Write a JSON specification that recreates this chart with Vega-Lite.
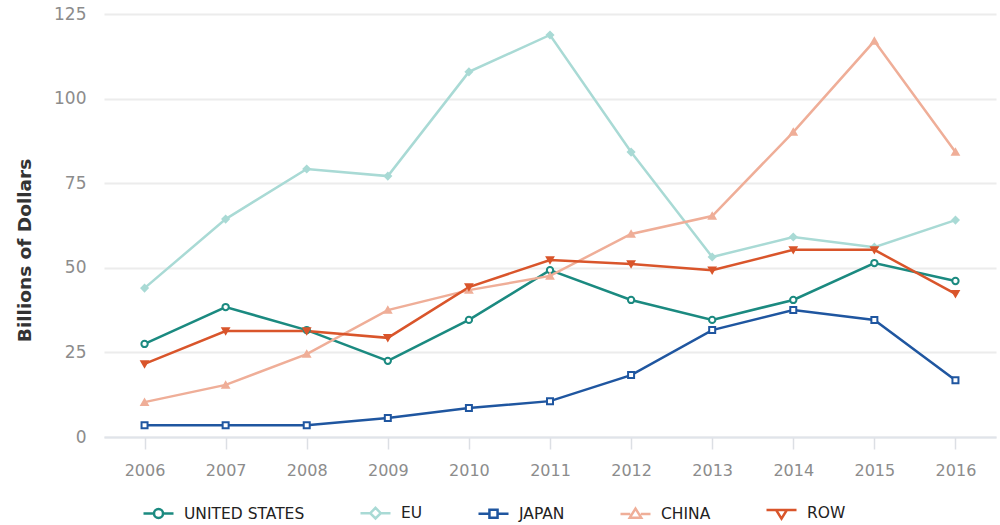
{
  "$schema": "https://vega.github.io/schema/vega-lite/v6.json",
  "width": 892,
  "height": 423,
  "autosize": {"type": "none"},
  "padding": {"left": 104, "top": 14, "right": 4, "bottom": 88},
  "background": "white",
  "config": {
    "view": {"stroke": null},
    "font": "DejaVu Sans"
  },
  "data": {
    "values": [
      {"year": "2006", "series": "UNITED STATES", "value": 27.5},
      {"year": "2007", "series": "UNITED STATES", "value": 38.4},
      {"year": "2008", "series": "UNITED STATES", "value": 31.6},
      {"year": "2009", "series": "UNITED STATES", "value": 22.5},
      {"year": "2010", "series": "UNITED STATES", "value": 34.6},
      {"year": "2011", "series": "UNITED STATES", "value": 49.3},
      {"year": "2012", "series": "UNITED STATES", "value": 40.5},
      {"year": "2013", "series": "UNITED STATES", "value": 34.6},
      {"year": "2014", "series": "UNITED STATES", "value": 40.5},
      {"year": "2015", "series": "UNITED STATES", "value": 51.4},
      {"year": "2016", "series": "UNITED STATES", "value": 46.1},
      {"year": "2006", "series": "EU", "value": 44.0},
      {"year": "2007", "series": "EU", "value": 64.4},
      {"year": "2008", "series": "EU", "value": 79.2},
      {"year": "2009", "series": "EU", "value": 77.1},
      {"year": "2010", "series": "EU", "value": 107.9},
      {"year": "2011", "series": "EU", "value": 118.8},
      {"year": "2012", "series": "EU", "value": 84.2},
      {"year": "2013", "series": "EU", "value": 53.2},
      {"year": "2014", "series": "EU", "value": 59.1},
      {"year": "2015", "series": "EU", "value": 56.1},
      {"year": "2016", "series": "EU", "value": 64.1},
      {"year": "2006", "series": "JAPAN", "value": 3.5},
      {"year": "2007", "series": "JAPAN", "value": 3.5},
      {"year": "2008", "series": "JAPAN", "value": 3.5},
      {"year": "2009", "series": "JAPAN", "value": 5.6},
      {"year": "2010", "series": "JAPAN", "value": 8.6},
      {"year": "2011", "series": "JAPAN", "value": 10.6},
      {"year": "2012", "series": "JAPAN", "value": 18.3},
      {"year": "2013", "series": "JAPAN", "value": 31.6},
      {"year": "2014", "series": "JAPAN", "value": 37.5},
      {"year": "2015", "series": "JAPAN", "value": 34.6},
      {"year": "2016", "series": "JAPAN", "value": 16.8},
      {"year": "2006", "series": "CHINA", "value": 10.3},
      {"year": "2007", "series": "CHINA", "value": 15.4},
      {"year": "2008", "series": "CHINA", "value": 24.5},
      {"year": "2009", "series": "CHINA", "value": 37.5},
      {"year": "2010", "series": "CHINA", "value": 43.4},
      {"year": "2011", "series": "CHINA", "value": 47.6},
      {"year": "2012", "series": "CHINA", "value": 60.0},
      {"year": "2013", "series": "CHINA", "value": 65.3},
      {"year": "2014", "series": "CHINA", "value": 90.1},
      {"year": "2015", "series": "CHINA", "value": 117.0},
      {"year": "2016", "series": "CHINA", "value": 84.2},
      {"year": "2006", "series": "ROW", "value": 21.6},
      {"year": "2007", "series": "ROW", "value": 31.3},
      {"year": "2008", "series": "ROW", "value": 31.3},
      {"year": "2009", "series": "ROW", "value": 29.3},
      {"year": "2010", "series": "ROW", "value": 44.3},
      {"year": "2011", "series": "ROW", "value": 52.3},
      {"year": "2012", "series": "ROW", "value": 51.1},
      {"year": "2013", "series": "ROW", "value": 49.3},
      {"year": "2014", "series": "ROW", "value": 55.3},
      {"year": "2015", "series": "ROW", "value": 55.3},
      {"year": "2016", "series": "ROW", "value": 42.3}
    ]
  },
  "encoding": {
    "x": {
      "field": "year",
      "type": "ordinal",
      "scale": {"type": "point", "padding": 0.5},
      "axis": {
        "title": null,
        "labelAngle": 0,
        "labelFontSize": 16,
        "labelColor": "#8c8c8c",
        "labelPadding": 13,
        "tickSize": 12,
        "tickColor": "#dcdfe4",
        "tickWidth": 1.5,
        "domainColor": "#e0e4ea",
        "domainWidth": 2,
        "grid": false
      }
    },
    "y": {
      "field": "value",
      "type": "quantitative",
      "scale": {"domain": [0, 125], "nice": false},
      "axis": {
        "values": [0, 25, 50, 75, 100, 125],
        "title": "Billions of Dollars",
        "titleFontSize": 18.5,
        "titleFontWeight": "bold",
        "titleColor": "#333333",
        "titleX": -80,
        "titleY": 236,
        "titleAngle": -90,
        "titleAlign": "center",
        "titleBaseline": "middle",
        "labelFontSize": 17,
        "labelColor": "#8c8c8c",
        "labelPadding": 18,
        "ticks": false,
        "domain": false,
        "grid": true,
        "gridColor": "#ececec",
        "gridWidth": 2
      }
    },
    "color": {
      "field": "series",
      "type": "nominal",
      "scale": {
        "domain": ["UNITED STATES", "EU", "JAPAN", "CHINA", "ROW"],
        "range": ["#1b8a80", "#a9dad5", "#1f56a0", "#efae98", "#d9552b"]
      },
      "legend": {
        "title": null,
        "orient": "none",
        "direction": "horizontal",
        "legendX": 38,
        "legendY": 482,
        "padding": 0,
        "columnPadding": 50,
        "labelOffset": 9,
        "labelFontSize": 15.5,
        "labelColor": "#222222",
        "symbolSize": 900,
        "symbolStrokeWidth": 2.5,
        "encode": {
          "symbols": {
            "update": {
              "shape": {"signal": "datum.value === 'UNITED STATES' ? 'M-1,0L-0.3,0M0.3,0A0.3,0.3,0,1,1,-0.3,0A0.3,0.3,0,1,1,0.3,0M0.3,0L1,0' : datum.value === 'EU' ? 'M-1,0L-0.35,0M0,-0.35L0.35,0L0,0.35L-0.35,0ZM0.35,0L1,0' : datum.value === 'JAPAN' ? 'M-1,0L-0.27,0M-0.27,-0.27L0.27,-0.27L0.27,0.27L-0.27,0.27ZM0.27,0L1,0' : datum.value === 'CHINA' ? 'M-1,0L-0.35,0M-0.38,0.25L0,-0.35L0.38,0.25ZM0.35,0L1,0' : 'M-1,-0.2L1,-0.2M-0.36,-0.2L0.36,-0.2L0,0.38Z'"},
              "fill": {"value": "white"},
              "strokeWidth": {"value": 2.5}
            }
          }
        }
      }
    }
  },
  "layer": [
    {
      "mark": {"type": "line", "strokeWidth": 2.5}
    },
    {
      "transform": [{"filter": "datum.series === 'UNITED STATES'"}],
      "mark": {"type": "point", "shape": "circle", "size": 40, "strokeWidth": 2, "opacity": 1, "filled": false, "fill": "white"}
    },
    {
      "transform": [{"filter": "datum.series === 'EU'"}],
      "mark": {"type": "point", "shape": "diamond", "size": 40, "strokeWidth": 2, "opacity": 1, "filled": false, "fill": "#a9dad5"}
    },
    {
      "transform": [{"filter": "datum.series === 'JAPAN'"}],
      "mark": {"type": "point", "shape": "square", "size": 36, "strokeWidth": 2, "opacity": 1, "filled": false, "fill": "white"}
    },
    {
      "transform": [{"filter": "datum.series === 'CHINA'"}],
      "mark": {"type": "point", "shape": "triangle-up", "size": 40, "strokeWidth": 2, "opacity": 1, "filled": false, "fill": "#efae98"}
    },
    {
      "transform": [{"filter": "datum.series === 'ROW'"}],
      "mark": {"type": "point", "shape": "triangle-down", "size": 40, "strokeWidth": 2, "opacity": 1, "filled": false, "fill": "#d9552b"}
    }
  ]
}
